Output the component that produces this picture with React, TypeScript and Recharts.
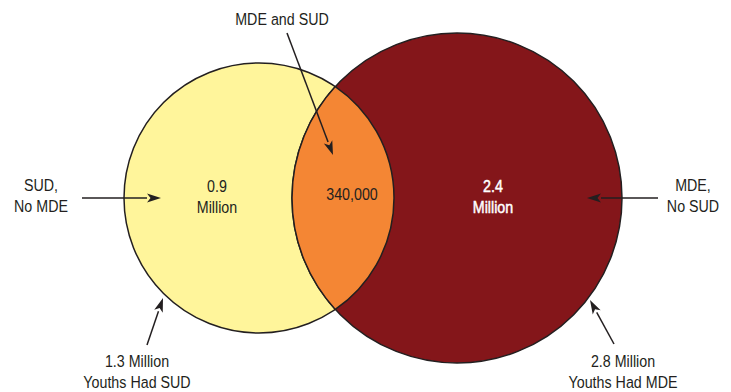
import { ScatterChart, Scatter, XAxis, YAxis } from "recharts"

// values (youths, millions unless noted)
const groups = ["SUD", "MDE"]
const totalMillions = [1.3, 2.8]
const onlyMillions = [0.9, 2.4]
const bothCount = 340000

const W = 731
const H = 392
const INK = "#231f20"
const FONT = "'Liberation Sans Narrow', 'Liberation Sans', Arial, sans-serif"

// venn layout in chart units (1 unit = 1px here)
const circleLayout = [
  { x: 259, y: 198, r: 135, fill: "#fff59b" },
  { x: 457, y: 198, r: 165, fill: "#84161a" },
]

const circles = groups.map((g, i) => ({ name: g, ...circleLayout[i] }))

const lens = (() => {
  const [a, b] = circleLayout
  const d = b.x - a.x
  const along = (a.r * a.r - b.r * b.r + d * d) / (2 * d)
  const h = Math.sqrt(a.r * a.r - along * along)
  return [{ x: a.x + along, y: a.y, h }]
})()

const labels = [
  { x: 282, y: 25, lines: ["MDE and SUD"], color: INK },
  { x: 41, y: 191, lines: [`${groups[0]},`, `No ${groups[1]}`], color: INK },
  { x: 693, y: 191, lines: [`${groups[1]},`, `No ${groups[0]}`], color: INK },
  { x: 137, y: 367, lines: [`${totalMillions[0]} Million`, `Youths Had ${groups[0]}`], color: INK },
  { x: 623, y: 367, lines: [`${totalMillions[1]} Million`, `Youths Had ${groups[1]}`], color: INK },
  { x: 217, y: 192, lines: [`${onlyMillions[0]}`, "Million"], color: INK },
  { x: 352, y: 200, lines: [bothCount.toLocaleString("en-US")], color: INK },
  { x: 493, y: 192, lines: [`${onlyMillions[1]}`, "Million"], color: "#ffffff" },
]

const arrows = [
  { x: 287, y: 33, tx: 333, ty: 155 },
  { x: 82, y: 198, tx: 161, ty: 198 },
  { x: 658, y: 198, tx: 587, ty: 198 },
  { x: 147, y: 345, tx: 163, ty: 298 },
  { x: 614, y: 344, tx: 590, ty: 300 },
]

const CircleShape = (props: any) => {
  const { cx, cy, payload } = props
  return <circle cx={cx} cy={cy} r={payload.r} fill={payload.fill} stroke={INK} strokeWidth={1.5} />
}

const LensShape = (props: any) => {
  const { cx, cy, payload } = props
  const [a, b] = circleLayout
  const top = `${cx} ${cy - payload.h}`
  const bot = `${cx} ${cy + payload.h}`
  const d = `M ${top} A ${a.r} ${a.r} 0 0 1 ${bot} A ${b.r} ${b.r} 0 0 1 ${top} Z`
  return <path d={d} fill="#f48634" stroke={INK} strokeWidth={1.5} />
}

// no condensed face installed, so squeeze the regular one horizontally
const LabelShape = (props: any) => {
  const { cx, cy, payload } = props
  const white = payload.color === "#ffffff"
  return (
    <g transform={`translate(${cx} ${cy}) scale(0.84 1)`}>
      <text x={0} y={0} textAnchor="middle" fill={payload.color} fontFamily={FONT} fontSize={17}
        stroke={white ? payload.color : "none"} strokeWidth={white ? 0.5 : 0}>
        {payload.lines.map((l: string, i: number) => (
          <tspan key={i} x={0} dy={i === 0 ? 0 : 21}>{l}</tspan>
        ))}
      </text>
    </g>
  )
}

const ArrowShape = (props: any) => {
  const { cx, cy, payload } = props
  const x2 = cx + (payload.tx - payload.x)
  const y2 = cy + (payload.ty - payload.y)
  const ang = Math.atan2(y2 - cy, x2 - cx)
  const len = 14
  const half = 4.5
  const bx = x2 - len * Math.cos(ang)
  const by = y2 - len * Math.sin(ang)
  const px = -Math.sin(ang) * half
  const py = Math.cos(ang) * half
  return (
    <g>
      <line x1={cx} y1={cy} x2={bx} y2={by} stroke={INK} strokeWidth={1.5} />
      <polygon points={`${x2},${y2} ${bx + px},${by + py} ${bx + len * 0.25 * Math.cos(ang)},${by + len * 0.25 * Math.sin(ang)} ${bx - px},${by - py}`} fill={INK} />
    </g>
  )
}

export default function App() {
  return (
    <div style={{ position: "absolute", left: 0, top: 0, background: "#fff" }}>
      <ScatterChart width={W} height={H} margin={{ top: 0, right: 0, bottom: 0, left: 0 }}>
        <XAxis type="number" dataKey="x" domain={[0, W]} hide />
        <YAxis type="number" dataKey="y" domain={[0, H]} reversed hide />
        <Scatter data={circles} shape={CircleShape} isAnimationActive={false} />
        <Scatter data={lens} shape={LensShape} isAnimationActive={false} />
        <Scatter data={arrows} shape={ArrowShape} isAnimationActive={false} />
        <Scatter data={labels} shape={LabelShape} isAnimationActive={false} />
      </ScatterChart>
    </div>
  )
}
